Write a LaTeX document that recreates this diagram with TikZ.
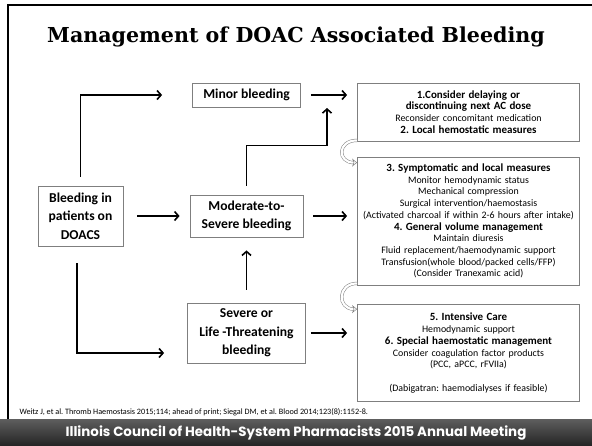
\documentclass[tikz,border=0pt]{standalone}
\usepackage{fontspec}
\setmainfont{Carlito}
\newfontfamily\titlefont{DejaVu Serif}
\newfontfamily\footfont{Poppins}
\usetikzlibrary{positioning,arrows.meta}
\frenchspacing

\definecolor{boxgray}{HTML}{7F7F7F}
\definecolor{bardark}{HTML}{262626}
\definecolor{barlight}{HTML}{5E5E5E}

\tikzset{
	flow/.style={draw=boxgray, line width=0.8pt, fill=white, align=center, inner sep=2pt, font=\fontsize{13.6}{18.5}\selectfont\bfseries},
	action/.style={draw=boxgray, line width=0.8pt, fill=white, align=center, minimum width=222pt, text width=220pt, inner sep=0pt, font=\fontsize{9.9}{11.7}\selectfont},
	arr/.style={line width=1.6pt, -{Straight Barb[length=4pt,width=9pt]}},
	turn/.style={boxgray, line width=0.5pt, double=white, double distance=2.2pt, -{Stealth[open,fill=white,length=5pt,width=8pt]}}
}
\newcommand{\hd}[1]{{\fontsize{11}{11.7}\selectfont\bfseries #1}}

\begin{document}
\begin{tikzpicture}[x=1pt,y=-1pt,node distance=2cm,on grid]
		\useasboundingbox (0,0) rectangle (592,445);
		\shade[top color=barlight, bottom color=bardark] (0,419) rectangle (592,445);
		\draw[line width=2pt] (8,419) -- (8,5) -- (592,5);
		\node[font=\titlefont\bfseries\fontsize{20.6}{24}\selectfont] (title) at (296,37) {Management of DOAC Associated Bleeding};

		\node[flow, minimum width=85pt, minimum height=60pt] (bleed) at (80.5,216) {Bleeding in\\patients on\\DOACS};
		\node[flow, minimum width=113pt, minimum height=42pt] (moderate) [right=166pt of bleed] {Moderate-to-\\Severe bleeding};
		\node[flow, minimum width=108pt, minimum height=24pt] (minor) [above=121pt of moderate] {Minor bleeding};
		\node[flow, minimum width=118pt, minimum height=60pt] (severe) [below=117pt of moderate] {Severe or\\Life -Threatening\\bleeding};

		\node[action, minimum height=58pt] (box1) at (468.5,112) {\hd{1.Consider delaying or}\\\hd{discontinuing next AC dose}\\Reconsider concomitant medication\\\hd{2. Local hemostatic measures}};
		\node[action, minimum height=128pt] (box2) at (468.5,221) {\hd{3. Symptomatic and local measures}\\Monitor hemodynamic status\\Mechanical compression\\Surgical intervention/haemostasis\\(Activated charcoal if within 2-6 hours after intake)\\\hd{4. General volume management}\\Maintain diuresis\\Fluid replacement/haemodynamic support\\Transfusion(whole blood/packed cells/FFP)\\(Consider Tranexamic acid)};
		\node[action, minimum height=97pt] (box3) at (468.5,353) {\hd{5. Intensive Care}\\Hemodynamic support\\\hd{6. Special haemostatic management}\\Consider coagulation factor products\\(PCC, aPCC, rFVIIa)\\[11.7pt](Dabigatran: haemodialyses if feasible)};

		\coordinate (merge) at (327,108);
		\draw[arr, shorten <=9pt, shorten >=30pt] (bleed.north) |- (minor.west);
		\draw[arr, shorten <=14pt, shorten >=10pt] (bleed) -- (moderate);
		\draw[arr, shorten <=17pt, shorten >=23pt] ([xshift=-3.5pt]bleed.south) |- ([yshift=-20pt]severe.west);
		\draw[arr, shorten <=10pt, shorten >=10pt] (minor.east) -- (minor.east -| box1.west);
		\draw[arr, shorten <=9pt] (moderate.north) -- ++(0,-49) -| (merge);
		\draw[arr, shorten <=10pt, shorten >=10pt] (moderate.east) -- (moderate.east -| box2.west);
		\draw[arr, shorten <=13pt, shorten >=13pt] (severe.north) -- (severe.north |- moderate.south);
		\draw[arr, shorten <=5pt, shorten >=10pt] (severe.east) -- (severe.east -| box3.west);
		\draw[turn] ([yshift=1pt]box1.south west) .. controls +(-20,0) and +(-20,0) .. ([yshift=-6pt]box2.north west);
		\draw[turn] ([yshift=2pt]box2.south west) .. controls +(-20,0) and +(-20,0) .. ([yshift=-5pt]box3.north west);

		\node[anchor=west, font=\fontsize{8.2}{10}\selectfont] (cite) at (16,412) {Weitz J, et al. Thromb Haemostasis 2015;114; ahead of print; Siegal DM, et al. Blood 2014;123(8):1152-8.};
		\node[text=white, font=\footfont\bfseries\fontsize{13.4}{15}\selectfont] (meeting) at (296,433) {Illinois Council of Health-System Pharmacists 2015 Annual Meeting};
\end{tikzpicture}
\end{document}
